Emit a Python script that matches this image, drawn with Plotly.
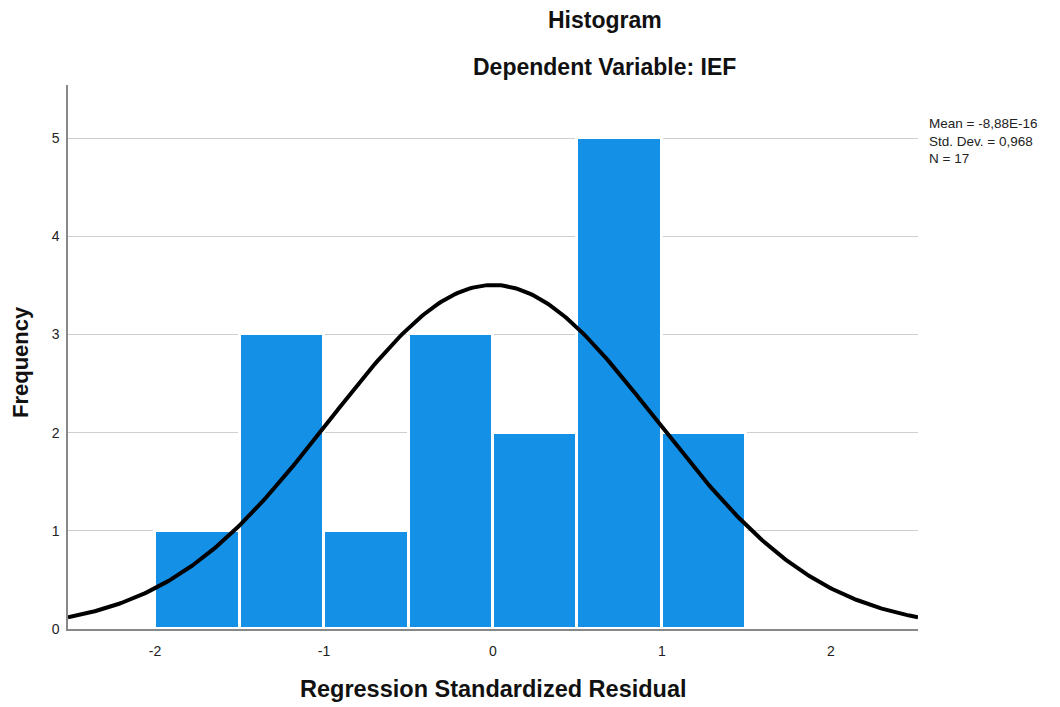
import numpy as np
import plotly.graph_objects as go

# Histogram bins (lower edges) and counts
bin_left = [-2.0, -1.5, -1.0, -0.5, 0.0, 0.5, 1.0]
bin_width = 0.5
counts = [1, 3, 1, 3, 2, 5, 2]

# Summary statistics shown in the chart
mean_val = -8.88e-16
std_val = 0.968
n_val = 17

x_ticks = [-2, -1, 0, 1, 2]
y_ticks = [0, 1, 2, 3, 4, 5]

centers = [b + bin_width / 2 for b in bin_left]

# Normal curve scaled to histogram (from stated mean, sd, N)
xc = np.linspace(-2.515, 2.515, 400)
yc = n_val * bin_width / (std_val * np.sqrt(2 * np.pi)) * np.exp(-0.5 * ((xc - mean_val) / std_val) ** 2)

# page has an 8px body margin, so work in figure coordinates = screen - 8
W, H = 1044, 699
L, R, T, B = 60, 910, 77, 621  # plot area edges in figure px

fig = go.Figure()
fig.add_trace(go.Bar(
    x=centers, y=counts, width=[bin_width] * len(counts),
    marker=dict(color="#1490E6", line=dict(color="white", width=3)),
    hoverinfo="skip", showlegend=False,
))
fig.add_trace(go.Scatter(
    x=xc, y=yc, mode="lines",
    line=dict(color="black", width=4), hoverinfo="skip", showlegend=False,
))

font = "Liberation Sans, Arial, sans-serif"
pw = R - L
ph = B - T


def px(x):
    return (x - L) / pw


def py(y):
    return (B - y) / ph


fig.update_layout(
    width=W, height=H,
    margin=dict(l=L, r=W - R, t=T, b=H - B, pad=0),
    paper_bgcolor="white", plot_bgcolor="white",
    font=dict(family=font, size=13, color="#222"),
    bargap=0,
    xaxis=dict(
        range=[-2.515, 2.515], tickvals=x_ticks, ticktext=[str(t) for t in x_ticks],
        showgrid=False, zeroline=False, showline=True, linecolor="#888", linewidth=1.5,
        ticks="", tickfont=dict(size=14, color="#222", family=font), ticklabelstandoff=8,
    ),
    yaxis=dict(
        range=[0, 5.54], tickvals=y_ticks, ticktext=[str(t) for t in y_ticks],
        showgrid=True, gridcolor="#CFCFCF", gridwidth=1.2, zeroline=False,
        showline=True, linecolor="#888", linewidth=1.5,
        ticks="", tickfont=dict(size=14, color="#222", family=font), ticklabelstandoff=4,
    ),
    annotations=[
        dict(text="<b>Histogram</b>", x=px(605 - 8), y=py(20 - 8), xref="paper", yref="paper",
             xanchor="center", yanchor="middle", showarrow=False,
             font=dict(size=23, color="#111", family=font)),
        dict(text="<b>Dependent Variable: IEF</b>", x=px(604 - 8), y=py(67 - 8), xref="paper", yref="paper",
             xanchor="center", yanchor="middle", showarrow=False,
             font=dict(size=23, color="#111", family=font)),
        dict(text="<b>Regression Standardized Residual</b>", x=px(493 - 8), y=py(689 - 8),
             xref="paper", yref="paper", xanchor="center", yanchor="middle", showarrow=False,
             font=dict(size=23.5, color="#111", family=font)),
        dict(text="<b>Frequency</b>", x=px(20 - 8), y=py(362 - 8), textangle=-90,
             xref="paper", yref="paper", xanchor="center", yanchor="middle", showarrow=False,
             font=dict(size=22, color="#111", family=font)),
        dict(text=f"Mean = -8,88E-16<br>Std. Dev. = {str(std_val).replace('.', ',')}<br>N = {n_val}",
             x=px(927 - 8), y=py(114 - 8), xref="paper", yref="paper", showarrow=False,
             xanchor="left", yanchor="top", align="left",
             font=dict(size=13.5, color="#222", family=font)),
    ],
)

fig.write_html("out.html")
